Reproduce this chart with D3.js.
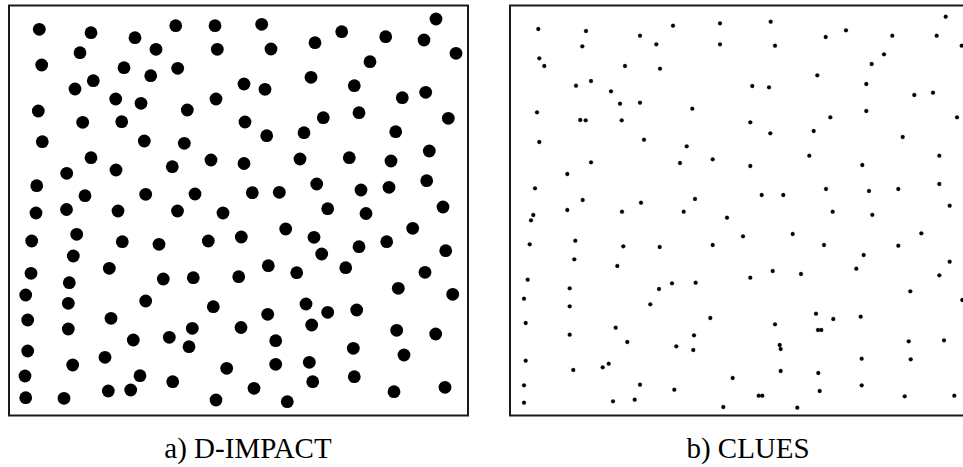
<!DOCTYPE html>
<html>
<head>
<meta charset="utf-8">
<script src="https://cdn.jsdelivr.net/npm/d3@7"></script>
<style>
  body { margin: 0; background: #fff; }
  svg { display: block; }
  .caption { font-family: "Liberation Serif", "DejaVu Serif", serif; font-size: 29px; fill: #000; }
</style>
</head>
<body>
<svg id="chart" width="963" height="467"></svg>
<script>
// point positions (picture units)
const impactPoints = [
  [39.3,29.3],[91,32.7],[135,37.7],[175.7,25.7],[215,25.7],[80,52.7],[156,49.3],[217.3,49.3],[41.7,65],[124,67.7],
  [150.7,75.7],[177.7,68.3],[93.3,80.7],[75,89],[115.7,99],[141,103.3],[216,99],[38.3,111],[187.3,110],[82.7,122.3],
  [121.7,121.7],[42.3,141.7],[144.3,141],[184.3,143.3],[91,157.7],[211,160],[66.7,173.3],[116,170],[172.3,166.7],[36.7,185.7],
  [85,195.7],[145.7,194.3],[195,194],
  [261.7,24.3],[341.7,31.7],[385.7,36.7],[436,19],[424,40],[271,49],[315,42.7],[370,61.7],[456,53.3],[311,77.3],
  [244,84],[265,89.3],[354.3,85.7],[402.3,97.7],[425.7,92.3],[245,122],[323.3,117.7],[359,112.7],[448.3,118.3],[266.7,135.7],
  [304,132.7],[395.7,131.7],[244,163.5],[300,159],[349.3,157.7],[391,161],[429.3,151],[252.3,192.7],[279.3,192.3],[316.7,184],
  [361,190],[389,187.3],[426.7,180.7],[327.7,208.7],[366,213.5],[443,207],
  [36,213],[66.5,209.5],[118,211],[177.5,211],[223,213],[76.7,234.3],[31.7,241],[122.3,241.7],[159,244.3],[208.3,241],
  [241.3,237],[73.3,256],[109.3,268.3],[31,273.3],[69.3,282.7],[163.3,279],[193.3,277.7],[238.7,276.7],[25.7,295],[68.3,303.3],
  [145.7,301],[213.3,306.7],[27.7,320],[111,318.3],[68.3,329],[192.3,328.3],[241,327.5],[133.3,340],[169.3,337.3],[189,346.7],
  [27.7,351],[105,357.3],[72.7,365],[226.7,368.3],[25,376],[140,375.7],[172.7,381.7],[108.3,391],[130.7,390],[25.7,397.7],
  [64,398.3],[216,400],
  [285.7,229],[314,237.3],[321.7,254],[359,246.7],[386.7,241.7],[412.7,228.3],[445.7,250.7],[268.3,265.7],[296.7,272.7],[345.7,267.7],
  [425,272.3],[398.3,288.3],[452.7,294.3],[306,304],[267.7,314.3],[327.7,312.3],[356.7,310],[311.7,325],[396.7,330.3],[435.7,334],
  [275.7,340.7],[353.3,348.3],[404,355],[275.7,364.3],[309.3,362.3],[354.3,376.7],[312.7,381.7],[254,388.3],[394,391.7],[445,387.3],
  [287.3,401.7]
];

const cluesPoints = [
  [538.3,29],[586,31],[640,35.7],[673,25.7],[720,23.3],[582.3,46.3],[656.3,44.3],[720,44.3],[539.3,58.3],[544.3,66],
  [625,66],[660,68.7],[576,85.7],[591,81],[611,91.3],[620,103.7],[640,102.7],[692.3,108.7],[537,112.3],[580.3,120],
  [585.7,120.3],[621.7,120.3],[539.3,142],[644,139.7],[686.7,146.3],[591,162.3],[680,163],[712.7,159.3],[567.3,174],[535,188.3],
  [582.7,200],[641,202.7],[695,199],[567.3,210],[622,211.7],[683.7,211.7],
  [770.7,21.7],[846,30.3],[825.7,37],[892.3,35.7],[945.7,16.7],[936.7,35.7],[961.7,45.7],[775,45.7],[884,54.3],[871.7,64],
  [817.3,75.3],[752.3,86],[769,87.3],[866.3,84],[914.3,95],[933,92.7],[750.3,122.3],[770.3,133.3],[830.3,117.3],[866.3,111],
  [813.7,131],[902.7,137],[957,117.3],[750.3,166],[809.3,155.7],[862.3,165],[939.3,155.7],[761.7,195],[783.3,195],[826,189],
  [869,191],[898.3,189],[939.3,184],[949.7,205.7],[832.7,211.7],[872.3,214.8],
  [533.3,215],[531,220.3],[727,217.7],[529.7,244.3],[575.3,240.7],[623.3,246.3],[659.7,247],[712.7,245],[574.3,259.3],[617.3,266],
  [527.7,279.7],[569.7,288.3],[659,289],[672,283.3],[695.7,282.7],[524,298.7],[569.7,306.3],[650.3,304.3],[525.7,323],[710.3,318],
  [615.7,327.7],[569.7,334.7],[627.3,342],[694,335.3],[676.3,346.3],[693.3,350],[525.7,360.7],[573.3,370],[602.7,367.3],[608.7,363.7],
  [732.7,378],[524,385.3],[640,384.7],[674.3,389.7],[524,402.7],[613,401.3],[634.7,399.7],[723.3,407],
  [743,236.3],[792.7,234],[824,245],[863.7,255],[898.3,245.7],[921.3,233.3],[750.3,277.7],[772.7,271],[801,274],[856.3,268.7],
  [939.3,275.3],[949.7,261.7],[910.3,291.3],[962.3,300],[816,313.7],[833.3,319],[860.7,316.7],[775,324.3],[818,330],[821.3,330],
  [779.7,345],[780.7,349],[908.7,341.3],[944,340.3],[861.7,358.7],[910.7,359.3],[780.7,371],[818.3,373],[861.7,385.3],[819.7,391],
  [758.7,395.7],[762.3,395.7],[904.7,396.3],[954.3,395.7],[797.3,407.7]
];

const captions = ["a) D-IMPACT", "b) CLUES"];

const svg = d3.select('#chart');

const panels = [
    {points: impactPoints, frame: [9, 468], r: 6.4, caption: captions[0], capX: 248},
    {points: cluesPoints, frame: [510, 966], r: 1.9, caption: captions[1], capX: 748}
];
const frameTop = 5.5, frameBottom = 415.5;

panels.forEach(p => {
    const x = d3.scaleLinear().domain(p.frame).range(p.frame);
    const y = d3.scaleLinear().domain([frameTop, frameBottom]).range([frameTop, frameBottom]);
    const g = svg.append('g');

    g.append('rect')
        .attr('x', x(p.frame[0]))
        .attr('y', y(frameTop))
        .attr('width', x(p.frame[1]) - x(p.frame[0]))
        .attr('height', y(frameBottom) - y(frameTop))
        .attr('fill', 'none')
        .attr('stroke', '#1a1a1a')
        .attr('stroke-width', 2);

    g.selectAll('circle')
        .data(p.points)
        .enter()
        .append('circle')
        .attr('cx', d => x(d[0]))
        .attr('cy', d => y(d[1]))
        .attr('r', p.r)
        .attr('fill', '#000')
        .attr('stroke', p.r < 3 ? 'rgba(0,0,0,0.35)' : 'none')
        .attr('stroke-width', 1);

    svg.append('text')
        .attr('class', 'caption')
        .attr('x', p.capX)
        .attr('y', 457.5)
        .attr('text-anchor', 'middle')
        .text(p.caption);
});
</script>
</body>
</html>
